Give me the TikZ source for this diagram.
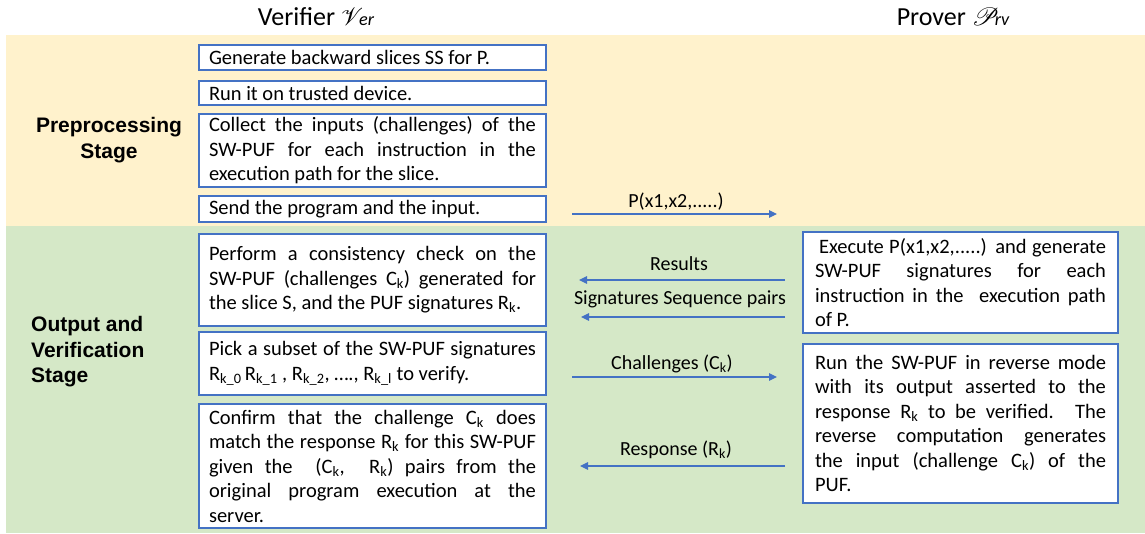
\documentclass[tikz,border=0pt]{standalone}
\usepackage{fontspec}
\usepackage{mathrsfs}
\setmainfont{Carlito}
\newfontfamily\stagefont{Liberation Sans}
\usetikzlibrary{arrows.meta}
\definecolor{bandyellow}{RGB}{255,242,204}
\definecolor{bandgreen}{RGB}{213,232,199}
\definecolor{boxblue}{RGB}{68,114,196}
\newcommand\sbx[1]{\textsubscript{#1}}
\newcommand\boxfont{\fontsize{20.5}{24.5}\selectfont\hyphenpenalty=10000\exhyphenpenalty=10000\tolerance=10000}
\begin{document}
\begin{tikzpicture}[x=1pt,y=-1pt,
  lbox/.style={draw=boxblue, line width=1.3pt, fill=white, inner xsep=10pt, inner ysep=0pt,
    text width=327pt, align=justify, font=\boxfont},
  rbox/.style={draw=boxblue, line width=1.3pt, fill=white, inner xsep=12pt, inner ysep=0pt,
    text width=291pt, align=justify, font=\boxfont},
  stage/.style={font=\stagefont\bfseries\fontsize{21}{25.5}\selectfont, inner sep=0pt},
  head/.style={font=\fontsize{26}{30}\selectfont, inner sep=0pt, anchor=base},
  lbl/.style={font=\fontsize{20}{24}\selectfont, inner sep=0pt, anchor=base},
  arr/.style={draw=boxblue, line width=1.2pt, -{Triangle[length=8pt,width=7.5pt]}}
]
\useasboundingbox (0,0) rectangle (1145,533);
% bands
\fill[bandyellow] (6,35) rectangle (1145,226);
\fill[bandgreen] (6,226) rectangle (1145,533);
% headers
\node[head] (hv) at (316,25) {Verifier $\mathscr{V}\mkern-3mu{\scriptstyle\mathit{er}}$};
\node[head] (hp) at (953,25) {Prover $\mathscr{P}\mkern-3mu{\scriptstyle\mathit{rv}}$};
% stage labels
\node[stage, align=center] (s1) at (109,140) {Preprocessing\\Stage};
\node[stage, anchor=west, align=left] (s2) at (31,352) {Output and\\Verification\\Stage};
% verifier boxes
\node[lbox, minimum height=25pt] (b1) at (372.5,57.5) {Generate backward slices SS for P.};
\node[lbox, minimum height=24pt] (b2) at (372.5,93) {Run it on trusted device.};
\node[lbox, minimum height=73pt] (b3) at (372.5,150.5) {Collect the inputs (challenges) of the \linebreak SW-PUF for each instruction in the \linebreak execution path for the slice.};
\node[lbox, minimum height=26pt] (b4) at (372.5,209) {Send the program and the input.};
\node[lbox, minimum height=92pt] (b5) at (372.5,280) {Perform a consistency check on the \linebreak SW-PUF (challenges C\sbx{k}) generated for \linebreak the slice S, and the PUF signatures R\sbx{k}.};
\node[lbox, minimum height=63pt] (b6) at (372.5,363.5) {Pick a subset of the SW-PUF signatures \linebreak R\sbx{k\_0}\,R\sbx{k\_1} , R\sbx{k\_2}, …., R\sbx{k\_l} to verify.};
\node[lbox, minimum height=124pt] (b7) at (372.5,466) {Confirm that the challenge C\sbx{k} does \linebreak match the response R\sbx{k} for this SW-PUF \linebreak given the \ (C\sbx{k}, \ R\sbx{k}) pairs from the \linebreak original program execution at the \linebreak server.};
% prover boxes
\node[rbox, minimum height=101pt] (r1) at (960.5,282.5) {\hspace*{4pt}Execute P(x1,x2,.....) and generate \linebreak SW-PUF signatures for each \linebreak instruction in the \ execution path \linebreak of P.};
\node[rbox, minimum height=159pt] (r2) at (960.5,423.5) {Run the SW-PUF in reverse mode \linebreak with its output asserted to the \linebreak response R\sbx{k} to be verified. The \linebreak reverse computation generates \linebreak the input (challenge C\sbx{k}) of the \linebreak PUF.};
% message labels
\node[lbl] (lp) at (676,207) {P(x1,x2,.....)};
\node[lbl] (lr) at (679,270) {Results};
\node[lbl] (ls) at (680,304) {Signatures Sequence pairs};
\node[lbl] (lc) at (672,369) {Challenges (C\sbx{k})};
\node[lbl] (lq) at (676,455) {Response (R\sbx{k})};
% arrow ends
\coordinate (p1) at (572,214); \coordinate (p2) at (777,214);
\coordinate (q1) at (785,280); \coordinate (q2) at (579,280);
\coordinate (t1) at (785,317); \coordinate (t2) at (581,317);
\coordinate (c1) at (572,377); \coordinate (c2) at (777,377);
\coordinate (e1) at (785,466); \coordinate (e2) at (580,466);
\draw[arr] (p1) -- (p2);
\draw[arr] (q1) -- (q2);
\draw[arr] (t1) -- (t2);
\draw[arr] (c1) -- (c2);
\draw[arr] (e1) -- (e2);
\end{tikzpicture}
\end{document}
